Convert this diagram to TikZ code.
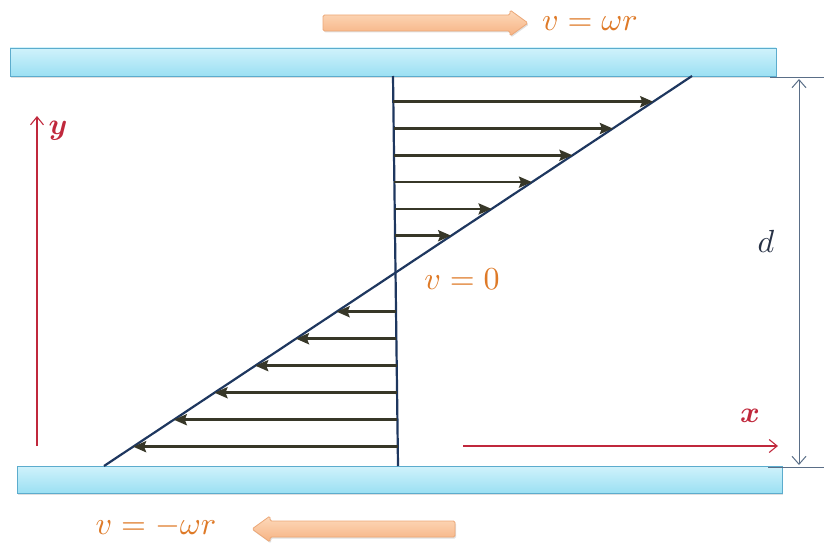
\documentclass[tikz,border=0pt]{standalone}
\usepackage{amsmath}
\usetikzlibrary{arrows.meta,calc,shadows}
\definecolor{plateTop}{RGB}{208,242,251}
\definecolor{plateBot}{RGB}{155,224,243}
\definecolor{plateLine}{RGB}{92,172,205}
\definecolor{orTop}{RGB}{253,218,188}
\definecolor{orBot}{RGB}{246,178,130}
\definecolor{orLine}{RGB}{236,168,120}
\definecolor{orText}{RGB}{222,122,40}
\definecolor{profBlue}{RGB}{30,55,95}
\definecolor{velDark}{RGB}{55,55,40}
\definecolor{axRed}{RGB}{192,40,60}
\definecolor{dimGray}{RGB}{90,110,135}
\definecolor{dText}{RGB}{40,50,70}
\tikzset{
  plate/.style={rectangle,draw=plateLine,line width=0.8pt,top color=plateTop,bottom color=plateBot,inner sep=0pt,
     drop shadow={opacity=0.25,shadow xshift=1pt,shadow yshift=-1.5pt}},
  movearrow/.style={draw=orLine,line width=0.8pt,top color=orTop,bottom color=orBot,rounded corners=1.5pt,
     drop shadow={opacity=0.25,shadow xshift=1pt,shadow yshift=-1.5pt}},
  vellbl/.style={text=orText,scale=3.2,inner sep=0pt},
  profile/.style={draw=profBlue,line width=2.2pt},
  velarrow/.style={draw=velDark,line width=2.6pt,-{Stealth[length=13pt,width=11pt,inset=2pt]}},
  axis/.style={draw=axRed,line width=1.1pt,-{Straight Barb[length=8pt,width=13pt]}},
  axlbl/.style={text=axRed,scale=3,inner sep=0pt},
  dimline/.style={draw=dimGray,line width=1pt},
}
\begin{document}
\begin{tikzpicture}[x=1pt,y=-1pt]
\useasboundingbox (0,0) rectangle (824,543);
% plates
\node[plate,minimum width=766pt,minimum height=28pt] (topplate) at (393,62) {};
\node[plate,minimum width=765pt,minimum height=27pt] (botplate) at (399.5,479.5) {};
% moving arrows
\coordinate (ta) at (323,23);
\path[movearrow] (ta) ++(0,-8) -- ++(187,0) -- ++(0,-5) -- ++(18,13) -- ++(-18,13) -- ++(0,-5) -- ++(-187,0) -- cycle;
\coordinate (ba) at (455,529);
\path[movearrow] (ba) ++(0,-8) -- ++(-185,0) -- ++(0,-5) -- ++(-18,13) -- ++(18,13) -- ++(0,-5) -- ++(185,0) -- cycle;
\node[vellbl] (toplbl) at (590,24) {$v=\omega r$};
\node[vellbl] (botlbl) at (156,526) {$v=-\omega r$};
% profile lines
\coordinate (vtop) at (393,76);
\coordinate (vbot) at (398,466);
\coordinate (dtop) at (692,76);
\coordinate (dbot) at (104,466);
\draw[profile] (vtop) -- (vbot);
\draw[profile] (dtop) -- (dbot);
% velocity arrows
\foreach \t in {0.0659,0.1346,0.2033,0.2721,0.3408,0.4095,0.6044,0.6736,0.7428,0.8121,0.8813,0.9505}
  \draw[velarrow] ($(vtop)!\t!(vbot)$) -- ($(dtop)!\t!(dbot)$);
\node[vellbl] (zerolbl) at (462,279) {$v=0$};
% axes
\coordinate (y0) at (37,446);
\coordinate (y1) at (37,116);
\draw[axis] (y0) -- (y1);
\node[axlbl] (ylbl) at (58,131) {$\boldsymbol{y}$};
\coordinate (x0) at (463,446);
\coordinate (x1) at (778,446);
\draw[axis] (x0) -- (x1);
\node[axlbl] (xlbl) at (750,416) {$\boldsymbol{x}$};
% dimension
\coordinate (e1a) at (770,77);
\coordinate (e1b) at (824,77);
\coordinate (e2a) at (768,467);
\coordinate (e2b) at (824,467);
\draw[dimline] (e1a) -- (e1b);
\draw[dimline] (e2a) -- (e2b);
\coordinate (d0) at (799,79);
\coordinate (d1) at (799,465);
\draw[dimline,{Straight Barb[length=8pt,width=14pt]}-{Straight Barb[length=8pt,width=14pt]}] (d0) -- (d1);
\node[text=dText,scale=3.2,inner sep=0pt] (dlbl) at (766,241) {$d$};
\end{tikzpicture}
\end{document}
